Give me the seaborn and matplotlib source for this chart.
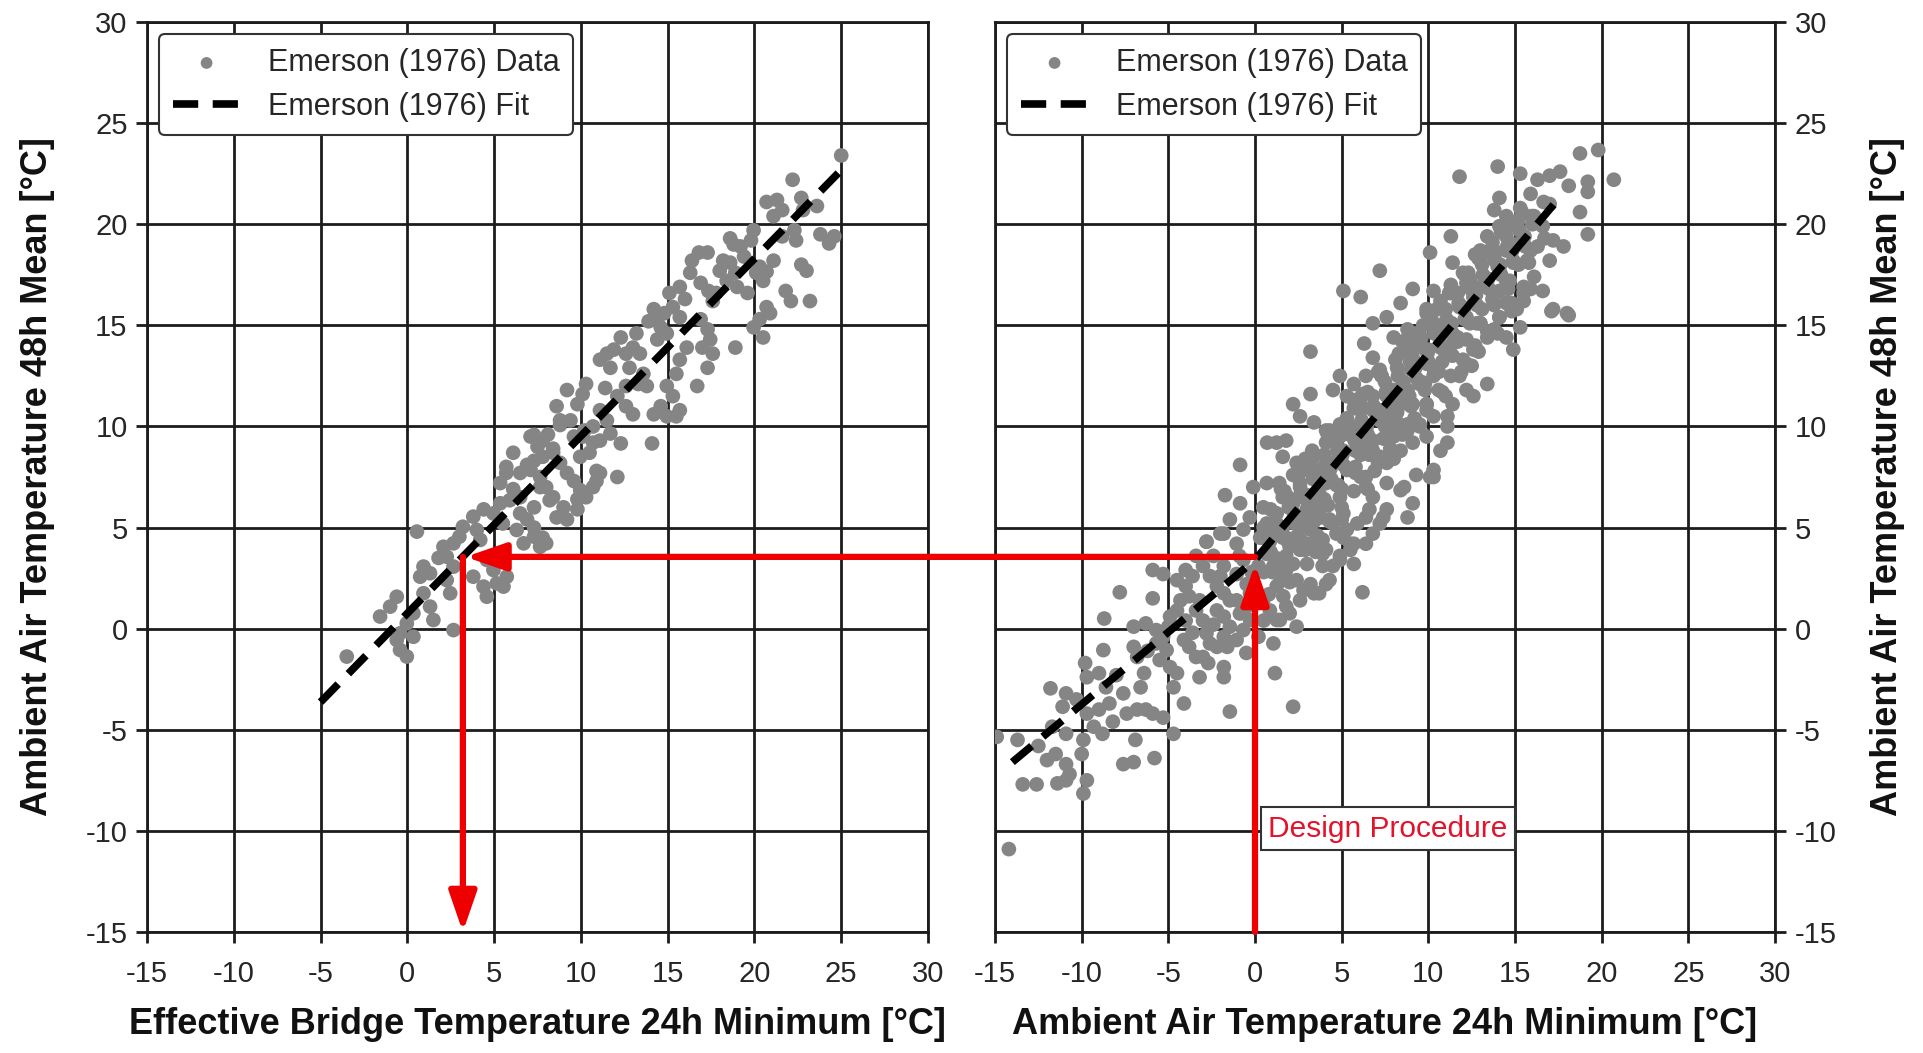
import numpy as np
import pandas as pd
import seaborn as sns
import matplotlib
matplotlib.use("Agg")
import matplotlib.pyplot as plt
from matplotlib import font_manager

# ---------------- data ----------------
left_pts = [
    (25.0,23.4),(22.2,22.2),(20.7,21.1),(21.3,21.2),(21.6,20.7),(21.1,20.4),(22.7,21.3),(22.8,20.7),
    (23.8,19.5),(24.3,19.05),(24.6,19.4),(22.4,19.2),(22.3,19.7),(22.7,18.0),(23.0,17.7),(23.2,16.2),
    (21.8,16.7),(22.1,16.2),(21.1,18.2),(20.7,17.65),(20.5,17.2),(19.95,19.7),(19.8,19.2),(19.2,18.9),
    (18.8,19.0),(18.6,19.3),(20.3,17.9),(20.1,17.6),(20.7,15.9),(20.9,15.6),(19.95,14.9),(20.5,14.4),
    (20.3,15.3),(18.9,13.9),(19.6,16.6),(19.0,16.9),(17.8,16.6),(17.35,16.7),(17.6,16.2),(18.4,17.2),
    (18.0,17.7),(18.6,18.1),(18.2,18.2),(17.3,18.6),(16.4,18.2),(16.3,17.6),(16.9,17.1),(15.7,16.9),
    (15.1,16.6),(15.3,15.9),(15.7,15.4),(14.2,15.8),(14.8,15.6),(14.4,15.3),(16.9,15.3),(17.3,14.8),
    (17.45,14.3),(17.0,13.9),(17.6,13.6),(17.3,12.9),(16.7,12.0),(16.1,13.9),(15.7,13.3),(15.5,12.6),
    (14.95,14.6),(14.6,14.9),(14.4,14.3),(13.2,14.6),(13.0,13.9),(13.4,13.6),(11.9,13.8),(11.5,13.6),
    (11.1,13.3),(11.7,12.9),(12.6,13.6),(12.8,12.9),(13.6,12.6),(13.8,12.0),(14.95,12.0),(15.3,11.5),
    (14.6,11.0),(14.95,10.5),(14.2,10.6),(15.7,10.8),(15.5,10.5),(12.6,12.0),(12.1,11.5),(12.6,11.0),
    (13.0,10.6),(10.3,12.1),(10.1,11.6),(9.8,11.1),(9.2,11.8),(8.6,11.0),(8.8,10.3),(11.1,10.8),
    (11.5,10.3),(11.7,9.65),(12.3,9.16),(11.1,9.3),(10.7,10.0),(10.1,9.5),(14.1,9.16),(7.1,9.5),
    (7.5,9.0),(7.8,8.5),(8.4,8.7),(6.1,8.7),(5.7,8.0),(6.5,7.7),(8.8,8.2),(9.2,7.7),(9.6,7.3),
    (10.9,7.8),(10.9,7.3),(12.1,7.5),(9.96,6.85),(10.3,6.5),(9.8,5.9),(7.65,7.0),(8.2,6.35),(7.3,6.0),
    (5.9,6.35),(6.5,5.7),(7.3,5.0),(7.8,4.5),
    (8.8,10.07),(7.3,9.58),(7.8,9.3),(8.4,8.9),(9.6,9.5),(10.2,9.8),(10.7,9.2),(10.5,8.7),(9.96,8.5),
    (11.1,7.7),(10.7,7.0),(7.3,8.3),(7.1,7.85),(7.65,7.5),(8.0,7.0),(5.7,7.7),(5.35,7.2),(6.1,6.9),
    (6.5,6.5),(8.4,6.5),(9.0,6.0),(8.6,5.5),(9.2,5.4),(10.2,6.7),(9.8,6.4),(6.9,5.4),(6.3,4.88),
    (6.7,4.22),(7.3,4.55),(8.0,4.22),(7.65,4.05),(5.35,6.2),(4.96,5.7),(5.5,5.2),(3.8,5.54),(3.2,5.04),
    (3.0,4.55),(2.66,4.22),(4.0,4.88),(4.2,4.39),(0.55,4.8),(2.08,4.05),(2.27,3.56),(2.66,3.07),
    (4.58,3.4),(4.96,2.9),(5.73,2.57),(5.54,2.08),(5.15,2.24),(4.39,2.08),(4.58,1.58),(3.8,2.57),
    (0.93,3.07),(0.74,2.57),(1.31,2.74),(2.27,2.4),(2.47,1.75),(0.93,1.75),(1.31,1.09),(1.5,0.43),
    (-0.61,1.58),(-0.99,1.09),(-1.57,0.6),(0.35,0.76),(-0.03,0.26),(-0.42,-0.23),(0.35,-0.4),
    (-0.61,-0.56),(-0.42,-1.05),(-0.03,-1.38),(2.66,-0.07),(-3.49,-1.38),
    (13.9,15.2),(16.0,16.3),(18.9,17.6),(21.6,19.4),(23.6,20.9),(12.3,14.4),(9.4,10.3),(6.9,8.1),
    (4.4,5.9),(1.8,3.5),(16.8,18.6),(19.4,18.4),(13.3,12.1),(11.4,11.9),(8.1,9.6),
]
bridge_min_24h = [p[0] for p in left_pts]
air_mean_48h_left = [p[1] for p in left_pts]

right_pts = [
    (-14.2,-10.9),(-13.7,-5.5),(-14.9,-5.35),(-13.4,-7.7),(-12.6,-7.7),(-11.5,-6.2),(-10.9,-6.7),
    (-10.7,-7.2),(-11.4,-7.65),(-10.9,-7.5),(-9.9,-8.15),(-9.7,-7.5),(-11.7,-4.85),(-10.9,-5.2),
    (-9.9,-5.5),(-11.8,-2.95),(-10.9,-3.2),(-11.1,-3.86),(-10.3,-3.5),(-9.7,-4.2),(-9.0,-4.0),
    (-9.3,-4.85),(-8.8,-5.2),(-9.8,-1.7),(-9.7,-2.4),(-9.0,-2.2),(-8.75,-1.06),(-8.0,-2.3),(-8.6,-2.9),
    (-8.4,-3.7),(-8.7,0.5),(-7.8,1.8),(-7.4,-4.2),(-6.8,-4.0),(-6.3,-4.0),(-5.9,-4.2),(-7.6,-6.7),
    (-7.0,-6.6),(-6.9,-5.5),(-5.8,-6.4),(-7.0,-0.9),(-6.8,-1.4),(-6.4,-2.2),(-6.6,-2.9),(-7.0,0.1),
    (-6.3,0.26),(-5.7,-0.07),(-5.3,-0.4),(-5.9,1.5),(-5.9,2.9),(-5.3,2.7),(-5.7,-0.73),(-5.1,-1.06),
    (-5.5,-1.55),(-4.9,-1.9),(-4.5,-2.2),(-4.7,-2.9),(-4.1,-3.7),(-5.3,-4.4),(-4.7,-5.2),(-4.9,0.6),
    (-4.5,0.9),(-4.3,1.4),(-4.5,2.4),(-4.0,2.1),(-3.6,2.6),(-4.0,2.9),(-3.8,1.6),(-3.2,1.4),(-3.4,0.9),
    (-4.0,0.4),(-3.0,0.4),(-4.1,-0.56),(-3.8,-0.9),(-3.4,-1.4),(-3.0,-1.4),(-2.7,-1.7),(-2.8,-0.23),
    (-2.6,-0.73),(-1.8,-1.9),(-1.8,-2.4),(-1.45,-4.1),(-2.8,4.3),(-3.0,3.1),(-2.6,2.6),(-2.2,2.1),
    (-1.8,3.1),(-2.0,2.6),(-1.8,1.75),(-1.45,1.4),(-2.2,0.9),(-1.8,0.6),(-1.45,0.1),(-1.8,-0.4),
    (-1.6,-0.9),(-1.06,1.4),(-0.87,0.75),(-0.67,-0.07),(-1.06,-0.56),(-1.45,5.4),(-1.8,4.7),(-0.67,4.9),
    (-1.06,4.2),(-0.67,3.4),(-1.06,2.7),(-0.48,2.2),(-0.29,1.75),(-0.48,1.1),(-0.29,0.43),(1.06,3.1),
    (1.44,2.6),(1.25,2.1),(1.63,1.6),(1.8,1.1),(1.25,0.43),(1.06,-0.73),(1.15,-2.2),(2.2,-3.86),
    (2.6,3.9),(3.0,3.2),(3.2,2.2),(3.4,1.75),(3.9,3.1),(4.3,2.4),(3.9,3.7),(4.9,3.4),(6.2,1.8),
    (6.4,4.2),(5.5,3.9),(5.1,4.5),
    (0.48,6.0),(1.25,5.7),(2.0,6.0),(2.8,5.5),(3.55,5.9),(4.3,5.4),(5.1,5.7),(5.9,5.2),(6.6,5.9),
    (7.4,5.5),(0.86,4.7),(1.6,5.0),(2.4,4.55),(3.2,4.9),(3.9,4.4),(4.7,4.7),(5.5,4.2),(2.0,4.05),
    (3.0,4.2),(0.67,3.7),(1.44,3.4),(1.8,2.9),(2.4,2.4),(2.8,1.9),(3.7,1.75),(4.1,2.2),(4.5,3.1),
    (0.48,1.4),(0.86,0.9),(1.44,0.43),(2.0,0.76),(2.6,1.4),(2.4,0.1),
    (11.8,22.35),(14.0,22.85),(18.75,23.5),(19.8,23.67),(20.7,22.2),(18.1,21.9),(19.2,22.1),(19.2,21.6),
    (18.75,20.6),(19.2,19.5),(17.0,22.4),(17.6,22.6),(16.3,22.2),(15.3,22.5),(15.9,21.5),(14.1,21.3),
    (13.8,20.7),(14.5,20.4),(15.1,19.9),(16.1,20.4),(16.6,19.9),(17.2,19.2),(17.8,18.9),(17.0,18.2),
    (16.6,16.7),(17.2,15.8),(18.0,15.6),(16.3,18.9),(15.7,18.2),(16.1,17.4),(15.5,16.6),(15.1,15.8),
    (15.3,14.9),(14.9,13.8),(13.4,19.4),(13.0,18.7),(13.8,18.4),(14.1,17.7),(14.5,18.7),(14.9,18.1),
    (14.1,16.7),(14.5,16.1),(14.1,15.4),(14.5,14.4),(11.3,19.4),(10.1,18.6),(11.4,18.1),(12.0,17.6),
    (7.2,17.7),(6.1,16.4),(5.1,16.7),(9.1,16.8),(12.2,17.1),(12.6,16.4),(11.8,15.9),(12.2,15.4),
    (13.0,15.1),(13.4,14.4),(10.3,16.7),(10.7,16.2),(9.9,15.8),(10.3,15.1),(11.1,14.8),(11.4,14.1),
    (17.1,15.7),(18.1,15.5),(13.4,12.1),(12.6,11.5),(11.1,10.0),(11.1,9.2),(12.6,13.8),(12.2,13.1),
    (11.8,12.5),(12.2,11.8),(11.4,11.1),(11.1,10.5),(8.4,16.1),(7.6,15.4),(6.8,15.1),(8.0,14.4),
    (8.8,14.8),(9.5,14.1),(9.1,13.4),(9.9,13.1),(10.3,12.5),(9.5,12.1),(8.8,11.8),(9.1,11.1),
    (9.9,11.1),(10.3,10.5),(9.5,10.1),(9.9,9.5),(9.1,9.2),(10.7,8.8),(10.3,7.85),(10.1,7.5),
    (6.3,14.1),(6.8,13.4),(7.2,12.8),(6.4,12.5),(5.7,12.1),(3.2,13.7),(4.9,12.5),(4.5,11.8),(5.3,11.5),
    (6.1,11.1),(6.8,10.8),(7.6,10.5),(8.0,11.8),(8.4,11.1),(7.6,11.5),(8.8,10.1),(8.0,9.5),(8.4,8.8),
    (3.2,11.6),(2.2,11.1),(2.6,10.5),(3.4,10.2),(4.1,9.8),(4.9,9.5),(6.1,10.1),(5.7,9.5),(6.4,9.2),
    (6.8,8.8),(7.2,8.5),(7.6,8.2),(5.1,8.8),(4.5,8.2),(5.3,7.85),(6.1,7.5),(6.4,7.0),(6.8,6.5),
    (7.6,7.2),(8.4,6.85),(9.1,6.2),(8.8,5.5),(7.6,5.9),(7.2,5.2),(9.3,7.6),(8.6,7.0),(10.3,7.5),
    (0.7,9.2),(1.25,9.2),(1.8,9.3),(1.6,8.5),(2.4,8.2),(3.0,7.85),(-0.86,8.1),(-1.73,6.6),(-0.86,6.2),
    (-0.1,7.0),(0.68,7.2),(1.4,7.2),(1.6,6.5),(2.2,6.2),(3.0,5.9),(3.8,5.5),(4.5,5.2),(5.3,4.9),
    (5.7,4.2),(4.1,7.2),(3.4,6.5),(3.8,7.85),(2.6,7.0),(4.9,6.5),(-0.3,5.5),(0.68,5.2),(0.3,4.5),
    (1.8,4.5),(2.6,4.4),(3.4,4.2),(4.1,3.9),(4.9,3.6),(5.7,3.2),(-2.8,4.3),(-2.0,4.7),(6.4,5.5),(6.8,4.7),
    (3.0,6.6),(4.0,7.6),(5.0,8.6),(6.0,9.7),(7.0,10.7),(8.0,11.7),(9.0,12.8),(10.0,13.8),(11.0,14.8),
    (12.0,15.9),(13.0,16.9),(14.0,17.9),(15.0,19.0),(16.0,20.0),(17.0,21.0),
    (3.8,6.0),(4.8,7.1),(5.8,8.0),(6.7,9.1),(7.8,10.0),(8.7,11.2),(9.8,12.1),(10.8,13.2),(11.7,14.2),
    (12.8,15.1),(13.7,16.3),(14.7,17.2),(15.8,18.1),(16.7,19.3),(2.2,7.6),(3.3,8.8),(4.2,9.6),(5.3,10.4),
    (6.2,11.6),(7.3,12.5),(8.3,13.6),(9.2,14.6),(10.2,15.6),(11.2,16.6),(12.3,17.6),(13.3,18.6),
    (14.2,19.6),(15.4,20.6),(6.9,7.8),(7.9,8.7),(8.8,9.8),(9.9,10.8),(10.8,11.7),(11.9,12.7),(12.9,13.7),
    (13.8,14.8),(14.8,15.7),(15.9,16.8),
    # solid core of the band
    (0.8,1.7),(1.5,2.4),(2.2,3.2),(2.9,3.9),(3.6,4.6),(4.3,5.3),(5.0,6.0),(5.7,6.8),(6.4,7.5),(7.1,8.2),
    (7.8,8.9),(8.5,9.6),(9.2,10.4),(9.9,11.1),(10.6,11.8),(11.3,12.5),(12.0,13.3),(12.7,14.0),(13.4,14.7),
    (14.1,15.4),(14.8,16.1),(15.5,16.9),
    (0.5,2.8),(1.2,3.5),(1.9,4.3),(2.6,5.0),(3.3,5.7),(4.0,6.4),(4.7,7.1),(5.4,7.9),(6.1,8.6),(6.8,9.3),
    (7.5,10.0),(8.2,10.7),(8.9,11.5),(9.6,12.2),(10.3,12.9),(11.0,13.6),(11.7,14.4),(12.4,15.1),(13.1,15.8),
    (13.8,16.5),(14.5,17.2),(15.2,18.0),(15.9,18.7),
    (0.85,4.3),(1.55,5.0),(2.25,5.7),(2.95,6.4),(3.65,7.2),(4.35,7.9),(5.05,8.6),(5.75,9.3),(6.45,10.0),
    (7.15,10.8),(7.85,11.5),(8.55,12.2),(9.25,12.9),(9.95,13.6),(10.65,14.4),(11.35,15.1),(12.05,15.8),
    (12.75,16.5),(13.45,17.3),(14.15,18.0),(14.85,18.7),(15.55,19.4),(16.25,20.1),
    (0.5,5.0),(1.2,5.7),(1.9,6.5),(2.6,7.2),(3.3,7.9),(4.0,8.6),(4.7,9.3),(5.4,10.1),(6.1,10.8),(6.8,11.5),
    (7.5,12.2),(8.2,12.9),(8.9,13.7),(9.6,14.4),(10.3,15.1),(11.0,15.8),(11.7,16.6),(12.4,17.3),(13.1,18.0),
    (13.8,18.7),(14.5,19.4),(15.2,20.2),
    (1.5,6.9),(2.9,8.4),(4.3,9.8),(5.7,11.3),(7.1,12.7),(8.5,14.2),(9.9,15.6),(11.3,17.0),(12.7,18.5),(14.1,19.9),
    (2.0,2.3),(3.5,3.8),(5.0,5.4),(6.5,6.9),(8.0,8.4),(9.5,10.0),(11.0,11.5),(12.5,13.0),(14.0,14.6),(15.5,16.2),
    (0.2,3.1),(0.9,3.8),(1.6,4.5),(2.3,5.2),(3.0,5.9),(3.7,6.7),(4.4,7.4),(5.1,8.1),(5.8,8.8),(6.5,9.6),
    (7.2,10.3),(7.9,11.0),(8.6,11.7),(9.3,12.4),(10.0,13.2),(10.7,13.9),(11.4,14.6),(12.1,15.3),(12.8,16.0),
    (13.5,16.8),(14.2,17.5),(14.9,18.2),(15.6,18.9),
    (0.55,4.5),(1.25,5.2),(1.95,6.0),(2.65,6.7),(3.35,7.4),(4.05,8.1),(4.75,8.8),(5.45,9.6),(6.15,10.3),
    (6.85,11.0),(7.55,11.7),(8.25,12.5),(8.95,13.2),(9.65,13.9),(10.35,14.6),(11.05,15.3),(11.75,16.1),
    (12.45,16.8),(13.15,17.5),(13.85,18.2),(14.55,18.9),(15.25,19.7),(15.95,20.4),(16.65,21.1),
    (1.0,2.8),(1.8,3.6),(2.6,4.4),(3.4,5.3),(4.2,6.1),(5.0,6.9),(5.8,7.7),(6.6,8.6),(7.4,9.4),(8.2,10.2),
    (9.0,11.0),(9.8,11.8),(10.6,12.7),(11.4,13.5),(12.2,14.3),(13.0,15.1),(13.8,16.0),(14.6,16.8),
    (0.9,5.9),(1.7,6.8),(2.5,7.6),(3.3,8.4),(4.1,9.2),(4.9,10.1),(5.7,10.9),(6.5,11.7),(7.3,12.5),
    (8.1,13.3),(8.9,14.2),(9.7,15.0),(10.5,15.8),(11.3,16.6),(12.1,17.5),(12.9,18.3),(13.7,19.1),
    (14.5,19.9),(15.3,20.8),
    # extra scatter in the cold range
    (-12.5,-5.8),(-12.0,-6.5),(-10.0,-6.2),(-8.2,-4.6),(-7.6,-3.2),(-6.2,-1.1),(-5.0,0.1),(-3.6,-0.2),
    (-2.4,0.2),(-2.2,-0.9),(-3.2,-2.4),(-0.5,-1.2),(0.2,-0.4),(0.5,0.4),(-0.2,2.8),(0.2,3.0),(-0.9,3.6),
    (-2.4,3.6),(-3.4,3.6),
]
air_min_24h = [p[0] for p in right_pts]
air_mean_48h_right = [p[1] for p in right_pts]

left_fit_x = [-5.0, 25.0]
left_fit_y = [-3.63, 22.68]
right_fit_x = [-14.0, 0.0, 17.6]
right_fit_y = [-6.6, 3.4, 21.35]

ticks = [-15, -10, -5, 0, 5, 10, 15, 20, 25, 30]
design_x = 0.0
design_y = 3.55
bridge_result = 3.2

# ---------------- style ----------------
sns.set_theme(style="white")
plt.rcParams['font.family'] = ['Liberation Sans', 'DejaVu Sans']
plt.rcParams['axes.unicode_minus'] = False
installed = {f.name for f in font_manager.fontManager.ttflist}
narrow = ['Liberation Sans Narrow', 'Liberation Sans', 'DejaVu Sans'] if 'Liberation Sans Narrow' in installed else ['Liberation Sans', 'DejaVu Sans']

GRAY = '#858585'
RED = '#ee0000'
GRID = '#1c1c1c'

fig = plt.figure(figsize=(19.23, 10.53), dpi=100)
ax1 = fig.add_axes([147/1923, 1-932/1053, (928-147)/1923, (932-22)/1053])
ax2 = fig.add_axes([995/1923, 1-932/1053, (1775-995)/1923, (932-22)/1053])

def style_axis(ax):
    ax.set_xlim(-15, 30)
    ax.set_ylim(-15, 30)
    ax.set_xticks(ticks)
    ax.set_yticks(ticks)
    ax.grid(True, color=GRID, lw=2.0)
    ax.set_axisbelow(True)
    for s in ax.spines.values():
        s.set_color(GRID)
        s.set_linewidth(2.0)
    ax.tick_params(direction='out', length=8, width=2, color=GRID, labelsize=21,
                   bottom=True, left=True)
    ax.tick_params(axis='x', pad=12)
    ax.tick_params(axis='y', pad=6)
    for lab in ax.get_xticklabels() + ax.get_yticklabels():
        lab.set_family(narrow)

left_df = pd.DataFrame({'x': bridge_min_24h, 'y': air_mean_48h_left})
right_df = pd.DataFrame({'x': air_min_24h, 'y': air_mean_48h_right})

for ax, df, fx, fy in [(ax1, left_df, left_fit_x, left_fit_y), (ax2, right_df, right_fit_x, right_fit_y)]:
    sns.scatterplot(data=df, x='x', y='y', ax=ax, color=GRAY, s=112, edgecolor='none',
                    label='Emerson (1976) Data', zorder=3)
    ax.plot(fx, fy, color='black', lw=5.5, dashes=(3.3, 1.9), label='Emerson (1976) Fit', zorder=4)
    style_axis(ax)
    leg = ax.legend(loc='upper left', fontsize=22, frameon=True, fancybox=True, framealpha=1,
                    edgecolor='#333333', borderaxespad=0.4, handlelength=2.2, handletextpad=0.9,
                    borderpad=0.45, labelspacing=0.45, markerscale=0.8)
    leg.get_frame().set_linewidth(1.5)
    leg.set_zorder(10)

ax2.yaxis.tick_right()
ax2.yaxis.set_label_position('right')
ax2.tick_params(axis='y', right=True, left=False)

lab_font = dict(family=narrow, fontsize=26, fontweight='bold', color='#111111')
ax1.set_xlabel('Effective Bridge Temperature 24h Minimum [°C]', labelpad=14, **lab_font)
ax2.set_xlabel('Ambient Air Temperature 24h Minimum [°C]', labelpad=14, **lab_font)
ax1.set_ylabel('Ambient Air Temperature 48h Mean [°C]', labelpad=22, **lab_font)
ax2.set_ylabel('Ambient Air Temperature 48h Mean [°C]', labelpad=24, rotation=90, **lab_font)

# ---------------- design procedure arrows ----------------
head = dict(arrowstyle='-|>,head_length=1.1,head_width=0.38', color=RED, lw=4.5,
            mutation_scale=22, shrinkA=0, shrinkB=0)
ax2.annotate('', xy=(design_x, design_y - 0.35), xytext=(design_x, -15),
             arrowprops=head, annotation_clip=False, zorder=6)
ax2.annotate('', xy=(bridge_result + 0.15, design_y), xycoords=ax1.transData,
             xytext=(design_x, design_y), textcoords=ax2.transData,
             arrowprops=head, annotation_clip=False, zorder=6)
ax1.annotate('', xy=(bridge_result, -15), xytext=(bridge_result, design_y),
             arrowprops=head, annotation_clip=False, zorder=6)
ax2.text(0.75, -9.9, 'Design Procedure', color='#e3132b', fontsize=21.5, va='center', ha='left',
         bbox=dict(boxstyle='square,pad=0.25', fc='white', ec='#333333', lw=1.5), zorder=7)

fig.savefig('out.png', dpi=100)
